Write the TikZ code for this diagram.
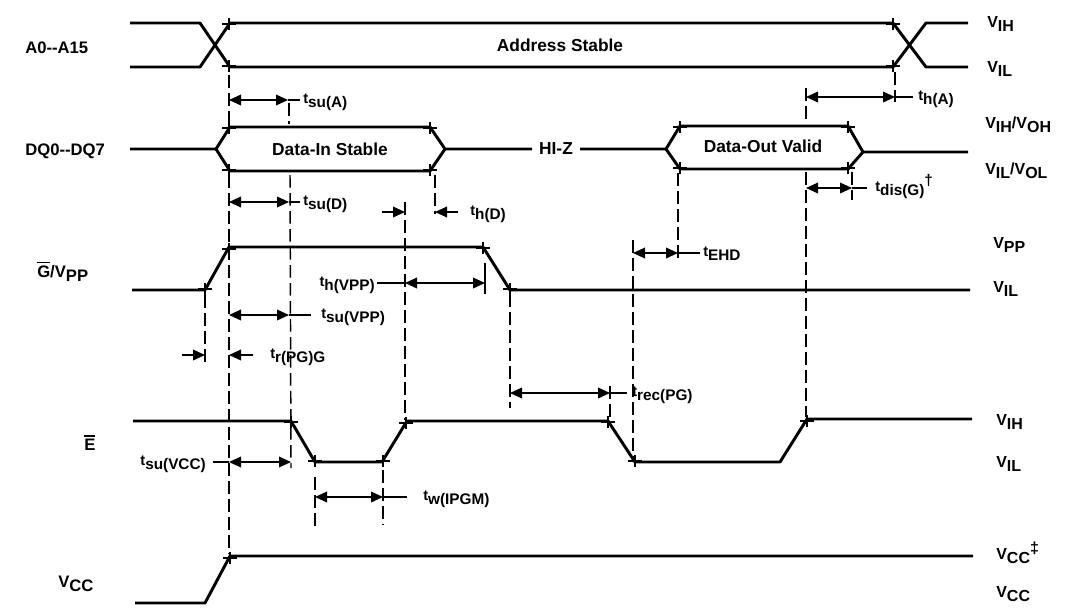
\documentclass[tikz,border=0pt]{standalone}
\usepackage{fontspec}
\setmainfont{Liberation Sans}
\usetikzlibrary{arrows.meta}
\newcommand\tlab[2]{{\fontsize{11}{11}\selectfont #1}\raisebox{-3.5pt}{\fontsize{11.5}{11.5}\selectfont #2}}
\newcommand\vlab[1]{V\raisebox{-3.5pt}{#1}}
\newcommand\ovl[1]{\leavevmode\vbox{\hrule height 1.1pt\kern1.5pt\hbox{#1}}}
\newcommand\xk[2]{\draw[tk] (#1,#2) +(-7,0) -- +(7,0) +(0,-6) -- +(0,6);}
\begin{document}
\begin{tikzpicture}[x=0.75pt,y=-0.75pt,
  sig/.style={line width=2.2pt,line join=round},
  dsh/.style={line width=1.1pt,dash pattern=on 9.5pt off 4pt},
  tk/.style={line width=1.1pt},
  dim/.style={line width=1.1pt,{Triangle[length=9pt,width=8pt]}-{Triangle[length=9pt,width=8pt]}},
  dimr/.style={line width=1.1pt,-{Triangle[length=9pt,width=8pt]}},
  ln/.style={line width=1.1pt},
  sname/.style={font=\bfseries\fontsize{12.5}{12.5}\selectfont,anchor=base west,inner sep=0pt},
  boxt/.style={font=\bfseries\fontsize{13}{13}\selectfont,inner sep=0pt},
  tl/.style={font=\bfseries,anchor=base west,inner sep=0pt},
  vl/.style={font=\bfseries\fontsize{12}{12}\selectfont,anchor=base west,inner sep=0pt}]
\useasboundingbox (0,0) rectangle (1073,607);

% ---------- signal names ----------
\node[sname] (nA) at (25,53) {A0-{}-A15};
\node[sname] (nDQ) at (25,155) {DQ0-{}-DQ7};
\node[sname] (nG) at (37,277) {\ovl{G}/\vlab{PP}};
\node[sname] (nE) at (84,450) {\ovl{E}};
\node[sname] (nV) at (58,587) {\vlab{CC}};

% ---------- right levels ----------
\node[vl] (r1) at (987,27) {\vlab{IH}};
\node[vl] (r2) at (987,72) {\vlab{IL}};
\node[vl] (r3) at (985,128) {\vlab{IH}/\vlab{OH}};
\node[vl] (r4) at (985,174) {\vlab{IL}/\vlab{OL}};
\node[vl] (r5) at (993,248) {\vlab{PP}};
\node[vl] (r6) at (993,292) {\vlab{IL}};
\node[vl] (r7) at (996,425) {\vlab{IH}};
\node[vl] (r8) at (996,467) {\vlab{IL}};
\node[vl] (r9) at (996,559) {\vlab{CC}\raisebox{4pt}{‡}};
\node[vl] (r10) at (996,597) {\vlab{CC}};

% ---------- A0-A15 ----------
\draw[sig] (130,23) -- (200,23) -- (230,67) -- (893,67) -- (926,23) -- (968,23);
\draw[sig] (130,67) -- (200,67) -- (230,23) -- (893,23) -- (926,67) -- (968,67);
\node[boxt] (addr) at (560,45) {Address Stable};

% ---------- DQ ----------
\draw[sig] (130,149) -- (216,149) -- (230,127) -- (430,127) -- (445,149) -- (532,149);
\draw[sig] (216,149) -- (230,171) -- (430,171) -- (445,149);
\node[boxt] (din) at (330,149) {Data-In Stable};
\node[boxt] (hiz) at (556,149) {HI-Z};
\draw[sig] (580,149) -- (666,149) -- (680,126) -- (848,126) -- (863,152) -- (968,152);
\draw[sig] (666,149) -- (680,169) -- (848,169) -- (863,152);
\node[boxt] (dout) at (763,146) {Data-Out Valid};

% ---------- G/VPP ----------
\draw[sig] (132,290) -- (205,290) -- (229,247) -- (483,247) -- (510,290) -- (970,290);

% ---------- E ----------
\draw[sig] (133,421) -- (291,421) -- (315,462) -- (382,462) -- (407,421) -- (608,421) -- (635,462) -- (780,462) -- (807,419) -- (972,419);

% ---------- VCC ----------
\draw[sig] (135,603) -- (205,603) -- (230,556) -- (973,556);

% ---------- tick crosses ----------
\xk{229}{24}\xk{229}{66}\xk{893}{24}\xk{893}{66}
\xk{229}{128}\xk{229}{170}\xk{430}{128}\xk{430}{170}
\xk{680}{127}\xk{680}{168}\xk{848}{127}\xk{848}{168}
\xk{205}{289}\xk{229}{249}\xk{483}{248}\xk{510}{289}
\xk{291}{422}\xk{315}{461}\xk{383}{461}\xk{406}{423}
\xk{608}{422}\xk{635}{461}\xk{807}{421}\xk{230}{558}

% ---------- dashed references ----------
\draw[dsh] (229,75) -- (229,124);
\draw[dsh] (229,175) -- (229,554);
\draw[dsh] (289,103) -- (289,124);
\draw[dsh] (290,175) -- (291,468);
\draw[dsh] (405,202) -- (405,420);
\draw[dsh] (435,175) -- (435,214);
\draw[ln] (485,263) -- (485,294);
\draw[dsh] (510,294) -- (510,408);
\draw[dsh] (610,386) -- (610,420);
\draw[dsh] (633,240) -- (633,460);
\draw[dsh] (678,173) -- (678,262);
\draw[dsh] (806,88) -- (806,123);
\draw[dsh] (806,172) -- (806,417);
\draw[dsh] (852,172) -- (852,200);
\draw[dsh] (895,72) -- (895,102);
\draw[dsh] (205,295) -- (205,364);
\draw[dsh] (315,477) -- (315,527);
\draw[dsh] (383,470) -- (383,525);

% ---------- timing parameters ----------
\draw[dim] (229,100) -- (288,100); \draw[ln] (288,100) -- (300,100);
\node[tl] (tsua) at (303,103) {\tlab{t}{su(A)}};

\draw[dim] (229,202) -- (289,202); \draw[ln] (289,202) -- (300,202);
\node[tl] (tsud) at (303,205) {\tlab{t}{su(D)}};

\draw[dimr] (382,212) -- (405,212);
\draw[dimr] (458,212) -- (435,212);
\node[tl] (thd) at (470,215) {\tlab{t}{h(D)}};

\draw[ln] (377,283) -- (405,283); \draw[dim] (405,283) -- (485,283);
\node[tl,anchor=base east] (thvpp) at (375,286) {\tlab{t}{h(VPP)}};

\draw[dim] (229,315) -- (289,315); \draw[ln] (289,315) -- (311,315);
\node[tl] (tsuvpp) at (321,318) {\tlab{t}{su(VPP)}};

\draw[dimr] (182,355) -- (205,355);
\draw[dimr] (253,355) -- (229,355);
\node[tl] (trpg) at (270,358) {\tlab{t}{r(PG)G}};

\draw[ln] (213,462) -- (229,462); \draw[dim] (229,462) -- (291,462);
\node[tl,anchor=base east] (tsuvcc) at (206,465) {\tlab{t}{su(VCC)}};

\draw[dim] (315,497) -- (383,497); \draw[ln] (383,497) -- (407,497);
\node[tl] (twp) at (423,500) {\tlab{t}{w(IPGM)}};

\draw[dim] (510,393) -- (610,393); \draw[ln] (610,393) -- (627,393);
\node[tl] (trec) at (632,396) {\tlab{t}{rec(PG)}};

\draw[dim] (633,253) -- (678,253); \draw[ln] (678,253) -- (700,253);
\node[tl] (tehd) at (703,256) {\tlab{t}{EHD}};

\draw[dim] (806,188) -- (852,188); \draw[ln] (852,188) -- (867,188);
\node[tl] (tdis) at (875,191) {\tlab{t}{dis(G)}\raisebox{4.5pt}{\fontsize{11.5}{11.5}\selectfont †}};

\draw[dim] (806,97) -- (895,97); \draw[ln] (895,97) -- (913,97);
\node[tl] (tha) at (918,100) {\tlab{t}{h(A)}};
\end{tikzpicture}
\end{document}
